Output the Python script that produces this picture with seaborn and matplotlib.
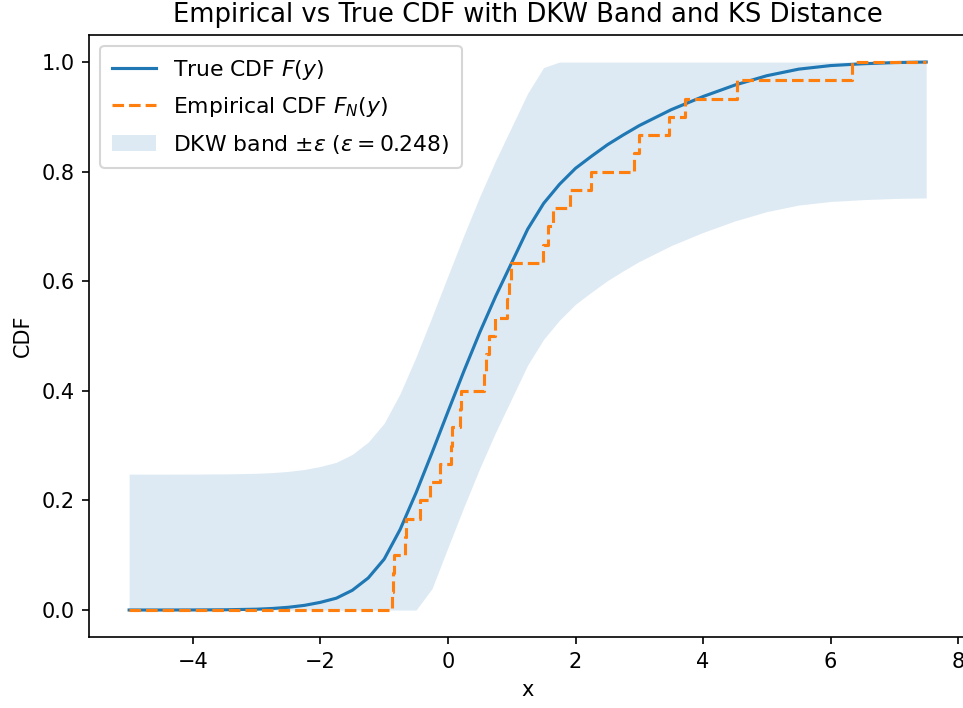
import numpy as np
import pandas as pd
import matplotlib
matplotlib.use("Agg")
import matplotlib.pyplot as plt
import seaborn as sns

# true CDF
x_true = [-5.0, -4.5, -4.0, -3.5, -3.0, -2.75, -2.5, -2.25, -2.0, -1.75, -1.5,
          -1.25, -1.0, -0.75, -0.5, -0.25, 0.0, 0.25, 0.5, 0.75, 1.0, 1.25,
          1.5, 1.75, 2.0, 2.25, 2.5, 2.75, 3.0, 3.5, 4.0, 4.5, 5.0, 5.5, 6.0,
          6.5, 7.0, 7.5]
F_true = [0.0, 0.0, 0.0001, 0.0004, 0.0015, 0.0028, 0.005, 0.0085, 0.014,
          0.0216, 0.036, 0.0585, 0.0929, 0.147, 0.214, 0.287, 0.362, 0.436,
          0.507, 0.573, 0.634, 0.695, 0.742, 0.777, 0.806, 0.828, 0.849,
          0.867, 0.884, 0.913, 0.937, 0.958, 0.975, 0.987, 0.9935, 0.9968,
          0.999, 1.0]

# sample points (jump locations of the empirical CDF), N = 30
samples = [-0.88, -0.86, -0.84, -0.67, -0.66, -0.44, -0.28, -0.13, 0.05, 0.06,
           0.19, 0.20, 0.56, 0.60, 0.65, 0.74, 0.92, 0.95, 0.99, 1.49,
           1.57, 1.65, 1.91, 2.25, 2.91, 3.00, 3.47, 3.72, 4.53, 6.33]

eps = 0.248
x_min, x_max = -5.0, 7.5

true_df = pd.DataFrame({"x": x_true, "F": F_true})
true_df["lower"] = np.clip(true_df["F"] - eps, 0, 1)
true_df["upper"] = np.clip(true_df["F"] + eps, 0, 1)

s = np.sort(samples)
n = len(s)
ecdf_df = pd.DataFrame({
    "x": np.r_[x_min, s, x_max],
    "F": np.r_[0.0, np.arange(1, n + 1) / n, 1.0],
})

fig = plt.figure(figsize=(963 / 150, 708 / 150), dpi=150)
ax = fig.add_axes([0.0927, 0.0997, 0.9105, 0.8514])

sns.lineplot(data=true_df, x="x", y="F", color="C0", lw=1.5,
             label="True CDF $F(y)$", ax=ax)
sns.lineplot(data=ecdf_df, x="x", y="F", color="C1", lw=1.5, ls="--",
             drawstyle="steps-post", label="Empirical CDF $F_N(y)$", ax=ax)
ax.fill_between(true_df["x"], true_df["lower"], true_df["upper"], color="C0",
                alpha=0.15, lw=0,
                label=r"DKW band $\pm\varepsilon$ ($\varepsilon=%.3f$)" % eps)

ax.set_title("Empirical vs True CDF with DKW Band and KS Distance", fontsize=12.4)
ax.set_xlabel("x")
ax.set_ylabel("CDF")
ax.legend(loc="upper left", fontsize=10.5, labelspacing=0.62, borderpad=0.55)

fig.savefig("out.png", dpi=150)
